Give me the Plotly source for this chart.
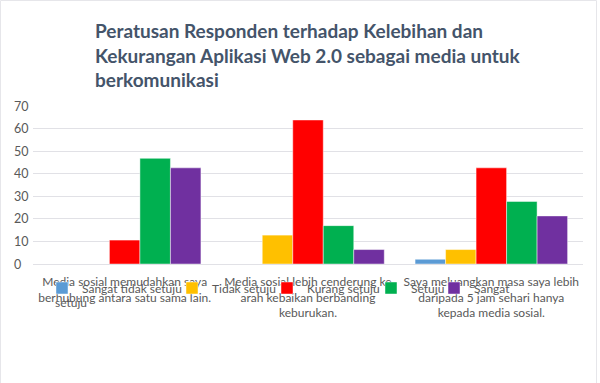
import plotly.graph_objects as go

categories = [
    "Media sosial memudahkan saya<br>berhubung antara satu sama lain.",
    "Media sosial lebih cenderung ke<br>arah kebaikan berbanding<br>keburukan.",
    "Saya meluangkan masa saya lebih<br>daripada 5 jam sehari hanya<br>kepada media sosial.",
]
series_names = ["Sangat tidak setuju", "Tidak setuju", "Kurang setuju", "Setuju", "Sangat"]
sangat_tidak_setuju = [0, 0, 2.1]
tidak_setuju = [0, 12.8, 6.4]
kurang_setuju = [10.6, 63.8, 42.6]
setuju = [46.8, 17.0, 27.7]
sangat_setuju = [42.6, 6.4, 21.3]
y_tick_vals = [0, 10, 20, 30, 40, 50, 60, 70]
y_tick_text = ["0", "10", "20", "30", "40", "50", "60", "70"]

colors = ["#5B9BD5", "#FFC000", "#FF0000", "#00B050", "#7030A0"]
values = [sangat_tidak_setuju, tidak_setuju, kurang_setuju, setuju, sangat_setuju]

W, H = 600, 383
L, R, T, B = 33, 17, 106, 119
PW, PH = W - L - R, H - T - B

def px_x(p):
    return (p - L) / PW

def px_y(p):
    return (H - B - p) / PH

FONT = "Lato"
TXT = "#595959"

fig = go.Figure()
legend_text_x = [82, 212, 307, 411, 474]
for i, (name, vals, col) in enumerate(zip(series_names, values, colors)):
    lg = "legend" if i == 0 else f"legend{i+1}"
    fig.add_trace(go.Bar(
        x=categories, y=vals, name=name,
        marker=dict(color=col, line=dict(color="rgba(255,255,255,0.45)", width=1)),
        legend=lg,
    ))

layout_legends = {}
for i, tx in enumerate(legend_text_x):
    key = "legend" if i == 0 else f"legend{i+1}"
    layout_legends[key] = dict(
        orientation="h", x=px_x(tx - 40), xanchor="left",
        y=px_y(288), yanchor="middle",
        font=dict(family=FONT, size=12, color=TXT),
        bgcolor="rgba(0,0,0,0)", borderwidth=0,
    )

fig.update_layout(
    width=W, height=H,
    margin=dict(l=L, r=R, t=T, b=B, autoexpand=False),
    paper_bgcolor="white", plot_bgcolor="white",
    barmode="group", bargap=0.168, bargroupgap=0,
    title=dict(
        text="Peratusan Responden terhadap Kelebihan dan<br>Kekurangan Aplikasi Web 2.0 sebagai media untuk<br>berkomunikasi",
        x=95 / W, xanchor="left", xref="container",
        y=1 - 38 / H, yanchor="top", yref="container",
        font=dict(family=FONT, size=19, color="#44546A", weight="bold"),
    ),
    xaxis=dict(
        showgrid=False, showline=False, zeroline=False, ticks="",
        tickfont=dict(family=FONT, size=12, color=TXT), tickangle=0,
        ticklabelstandoff=9, automargin=False,
    ),
    yaxis=dict(
        range=[0, 70], tickvals=y_tick_vals,
        showgrid=True, gridcolor="#E1E1E6", gridwidth=1,
        zeroline=True, zerolinecolor="#E1E1E6", zerolinewidth=1,
        showline=False, ticks="", showticklabels=False,
        automargin=False,
    ),
    showlegend=True,
    **layout_legends,
)

# y tick labels, left-aligned as in the reference, placed on the y scale
for v, t in zip(y_tick_vals, y_tick_text):
    fig.add_annotation(
        text=t, x=px_x(12), xref="paper", y=v, yref="y",
        showarrow=False, xanchor="left", yanchor="middle",
        font=dict(family=FONT, size=12.5, color=TXT),
    )

fig.add_annotation(
    text="setuju", x=px_x(71), y=px_y(302), xref="paper", yref="paper",
    showarrow=False, font=dict(family=FONT, size=12, color=TXT),
    xanchor="center", yanchor="middle",
)

fig.add_shape(
    type="rect", xref="paper", yref="paper",
    x0=px_x(0.5), x1=px_x(596.5), y0=px_y(420), y1=px_y(0.5),
    line=dict(color="#E6E6EA", width=1), fillcolor="rgba(0,0,0,0)", layer="below",
)

fig.write_html(
    "out.html",
    config={"displayModeBar": False},
    post_script="document.body.style.margin='0';",
)
